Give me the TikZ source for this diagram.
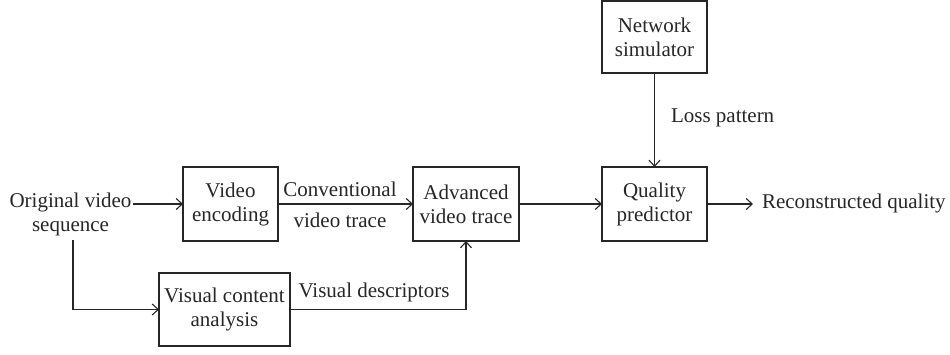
\documentclass[tikz,border=0pt]{standalone}
\usepackage{fontspec}
\setmainfont{Liberation Serif}
\usetikzlibrary{arrows.meta}
\begin{document}
\begin{tikzpicture}[x=1pt,y=-1pt,
  font=\fontsize{21}{24}\selectfont,
  every node/.style={inner sep=0pt,outer sep=0pt,text=black!85},
  block/.style={draw=black!85,line width=1.3pt,align=center,minimum height=74pt},
  lbl/.style={align=center},
  conn/.style={draw=black!85,line width=1.3pt,-{Straight Barb[length=6pt,width=11pt,line width=1.1pt]}},
  plain/.style={draw=black!85,line width=1.3pt}]
\useasboundingbox (0,0) rectangle (950,354);
\node[block,minimum width=95pt] (enc) at (230.5,204) {Video\\encoding};
\node[block,minimum width=106pt] (adv) at (466,204) {Advanced\\video trace};
\node[block,minimum width=105pt] (qp) at (654.5,204) {Quality\\predictor};
\node[block,minimum width=105pt,minimum height=72pt] (net) at (654.5,37) {Network\\simulator};
\node[block,minimum width=131pt,minimum height=73pt] (vca) at (224.5,309.5) {Visual content\\analysis};
\node[lbl,outer sep=2pt] (orig) at (70.5,214) {Original video\\sequence};
\node[lbl,anchor=west] (rec) at (762,203) {Reconstructed quality};
\node[lbl,anchor=west] (loss) at (671,118) {Loss pattern};
\node[lbl] (conv) at (340,189) {Conventional};
\node[lbl] (vtr) at (340,220) {video trace};
\node[lbl] (vdesc) at (374,292) {Visual descriptors};
\coordinate (split) at (73,240);
\coordinate (corner) at (73,309.5);
\coordinate (recend) at (753,204);
\draw[conn] (orig.east |- enc.west) -- (enc.west);
\draw[conn] (enc.east) -- (adv.west);
\draw[conn] (adv.east) -- (qp.west);
\draw[conn] (net.south) -- (qp.north);
\draw[conn] (qp.east) -- (recend);
\draw[conn] (split) -- (corner) -- (vca.west);
\draw[conn] (vca.east) -- (adv.south |- vca.east) -- (adv.south);
\end{tikzpicture}
\end{document}
